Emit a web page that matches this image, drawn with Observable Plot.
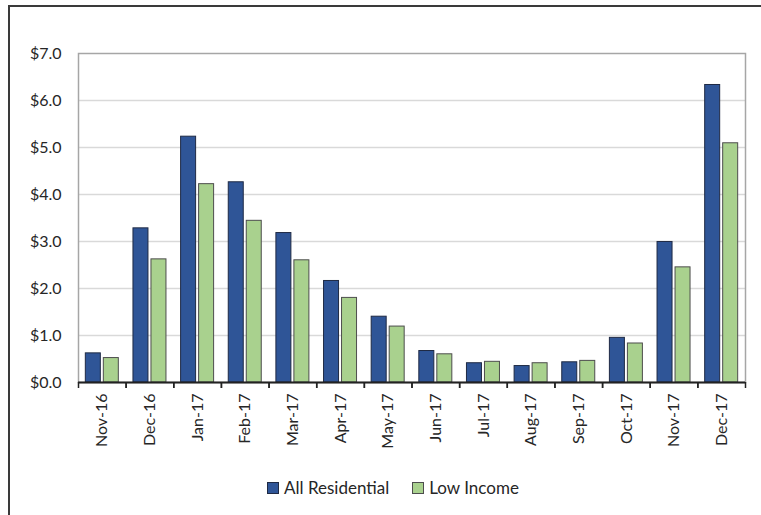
<!DOCTYPE html>
<html>
<head>
<meta charset="utf-8">
<script src="https://cdn.jsdelivr.net/npm/d3@7"></script>
<script src="https://cdn.jsdelivr.net/npm/@observablehq/plot@0.6"></script>
<style>
  html, body { margin: 0; padding: 0; background: #fff; }
  #wrap { position: relative; width: 761px; height: 515px; overflow: hidden; background: #fff; font-family: Lato, "Open Sans", sans-serif; }
  #border { position: absolute; left: 8px; top: 5px; width: 820px; height: 600px; border: 2px solid #3a3a3a; box-sizing: border-box; }
  #chart { position: absolute; left: 0; top: 0; }
  #legend { position: absolute; left: 0; top: 477px; width: 761px; display: flex; justify-content: center; gap: 23px; font-size: 17px; color: #262626; padding-left: 25px; box-sizing: border-box; }
  .item { display: flex; align-items: center; gap: 5px; }
  .sw { width: 10px; height: 10px; border: 1px solid #333; display: inline-block; }
</style>
</head>
<body>
<div id="wrap">
  <div id="border"></div>
  <div id="chart"></div>
  <div id="legend"></div>
</div>
<script>
const months = ["Nov-16","Dec-16","Jan-17","Feb-17","Mar-17","Apr-17","May-17","Jun-17","Jul-17","Aug-17","Sep-17","Oct-17","Nov-17","Dec-17"];
const allResidential = [0.62, 3.28, 5.23, 4.26, 3.18, 2.16, 1.40, 0.67, 0.41, 0.35, 0.43, 0.95, 2.99, 6.33];
const lowIncome      = [0.52, 2.62, 4.22, 3.44, 2.60, 1.80, 1.19, 0.60, 0.44, 0.41, 0.46, 0.83, 2.45, 5.09];
const seriesNames = ["All Residential", "Low Income"];
const seriesColors = ["#2F5597", "#A9D18E"];
const seriesStrokes = ["#1f2a44", "#4d4d4d"];
const yTicks = [0, 1, 2, 3, 4, 5, 6, 7];

const W = 761, H = 470;
const mL = 78, mR = 16, mT = 53, mB = 88;
const bw = (W - mL - mR) / months.length;
const barW = 15, gap = 3;
const side = (bw - 2 * barW - gap) / 2;

const resData = months.map((m, i) => ({month: m, value: allResidential[i]}));
const lowData = months.map((m, i) => ({month: m, value: lowIncome[i]}));

const plot = Plot.plot({
  width: W, height: H,
  marginLeft: mL, marginRight: mR, marginTop: mT, marginBottom: mB,
  style: {fontFamily: "Lato, 'Open Sans', sans-serif", fontSize: "16px", color: "#262626", background: "transparent"},
  x: {domain: months, padding: 0, round: false, label: null},
  y: {domain: [0, 7], label: null},
  marks: [
    Plot.gridY(yTicks.filter(d => d > 0 && d < 7), {stroke: "#d9d9d9", strokeOpacity: 1, strokeWidth: 1.5}),
    Plot.frame({stroke: "#a6a6a6", strokeWidth: 1.5}),
    Plot.barY(resData, {x: "month", y: "value", fill: seriesColors[0], stroke: seriesStrokes[0], strokeWidth: 1,
      insetLeft: side, insetRight: side + barW + gap}),
    Plot.barY(lowData, {x: "month", y: "value", fill: seriesColors[1], stroke: seriesStrokes[1], strokeWidth: 1,
      insetLeft: side + barW + gap, insetRight: side}),
    Plot.ruleY([0], {stroke: "#222", strokeWidth: 2}),
    Plot.axisY(yTicks, {tickSize: 0, tickPadding: 17, tickFormat: d => "$" + d.toFixed(1), fontSize: 16}),
    Plot.axisX({tickSize: 0, tickPadding: 11, tickRotate: -90, fontSize: 16}),
    Plot.axisX({tickSize: 6, tickFormat: () => "", dx: -bw / 2, stroke: "#222", strokeWidth: 1.5}),
    Plot.axisX({tickSize: 6, tickFormat: () => "", dx: bw / 2, stroke: "#222", strokeWidth: 1.5})
  ]
});
document.getElementById("chart").appendChild(plot);

const legend = document.getElementById("legend");
seriesNames.forEach((name, i) => {
  const item = document.createElement("div");
  item.className = "item";
  const sw = document.createElement("span");
  sw.className = "sw";
  sw.style.background = seriesColors[i];
  sw.style.borderColor = seriesStrokes[i];
  const t = document.createElement("span");
  t.textContent = name;
  item.appendChild(sw); item.appendChild(t);
  legend.appendChild(item);
});
</script>
</body>
</html>
